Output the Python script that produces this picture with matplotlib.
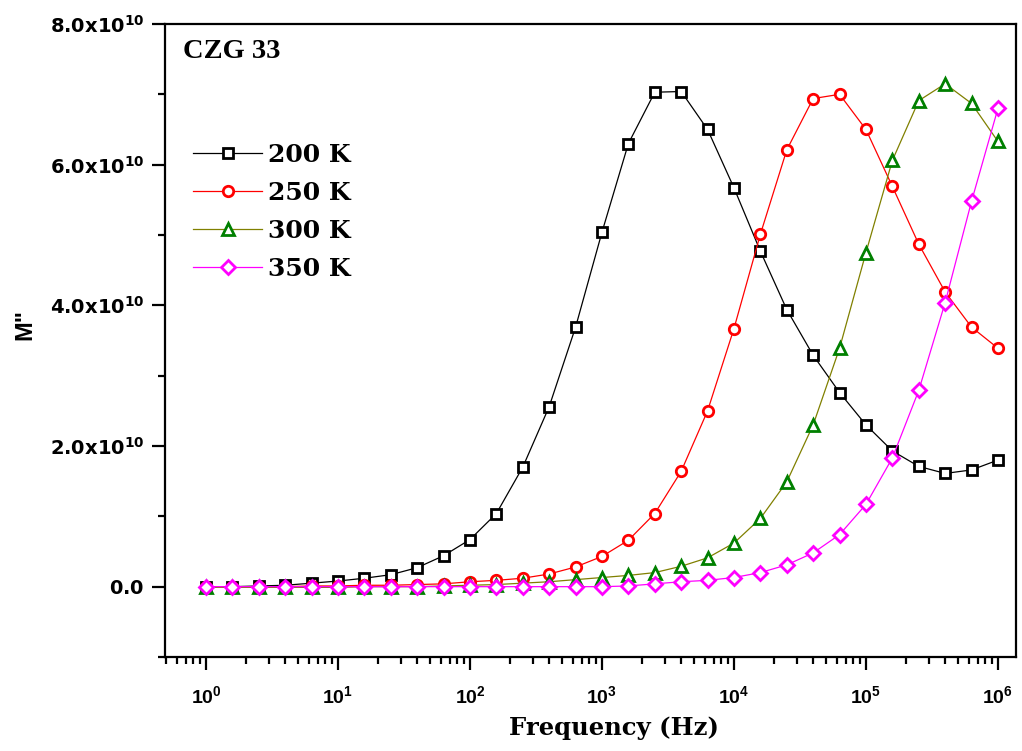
import numpy as np
import matplotlib
matplotlib.use("Agg")
import matplotlib.pyplot as plt
from matplotlib.ticker import FixedLocator, FuncFormatter, LogLocator, NullFormatter

# Frequencies (Hz): five points per decade from 1 Hz to 1 MHz
freq_hz = [1.0, 1.585, 2.512, 3.981, 6.310,
           10.0, 15.85, 25.12, 39.81, 63.10,
           100.0, 158.5, 251.2, 398.1, 631.0,
           1.0e3, 1.585e3, 2.512e3, 3.981e3, 6.310e3,
           1.0e4, 1.585e4, 2.512e4, 3.981e4, 6.310e4,
           1.0e5, 1.585e5, 2.512e5, 3.981e5, 6.310e5,
           1.0e6]

# Imaginary modulus M'' in units of 1e10
m_200k = [0.00, 0.00, 0.01, 0.02, 0.05, 0.08, 0.12, 0.17, 0.27, 0.44,
          0.67, 1.04, 1.70, 2.56, 3.69, 5.04, 6.30, 7.03, 7.04, 6.50,
          5.67, 4.77, 3.94, 3.29, 2.76, 2.30, 1.93, 1.71, 1.61, 1.66,
          1.80]
m_250k = [0.00, 0.00, 0.00, 0.00, 0.01, 0.01, 0.02, 0.02, 0.03, 0.04,
          0.07, 0.09, 0.12, 0.18, 0.28, 0.43, 0.66, 1.04, 1.64, 2.50,
          3.67, 5.01, 6.21, 6.94, 7.00, 6.50, 5.69, 4.87, 4.19, 3.69,
          3.39]
m_300k = [-0.01, -0.01, -0.01, -0.01, -0.01, -0.01, 0.00, 0.00, 0.00, 0.01,
          0.02, 0.03, 0.05, 0.07, 0.10, 0.13, 0.16, 0.20, 0.29, 0.41,
          0.62, 0.97, 1.49, 2.30, 3.39, 4.75, 6.06, 6.91, 7.15, 6.87,
          6.33]
m_350k = [0.00, 0.00, 0.00, 0.00, 0.00, 0.00, 0.00, 0.00, 0.00, 0.00,
          0.00, 0.00, 0.00, 0.00, 0.00, 0.00, 0.01, 0.04, 0.07, 0.09,
          0.13, 0.20, 0.31, 0.48, 0.74, 1.17, 1.83, 2.79, 4.04, 5.48,
          6.80]

labels = ["200 K", "250 K", "300 K", "350 K"]
x_ticks = [1e0, 1e1, 1e2, 1e3, 1e4, 1e5, 1e6]
y_ticks = [0.0, 2.0, 4.0, 6.0, 8.0]
sample_name = "CZG 33"

plt.rcParams["mathtext.fontset"] = "custom"
plt.rcParams["mathtext.rm"] = "Liberation Sans"
plt.rcParams["mathtext.bf"] = "Liberation Sans:bold"
plt.rcParams["font.family"] = "Liberation Sans"

fig = plt.figure(figsize=(10.22, 7.51), dpi=100)
ax = fig.add_axes([165 / 1022, 94 / 751, 851 / 1022, 633 / 751])

serif = "DejaVu Serif"
serif2 = "Liberation Serif"
scale = 1e10
styles = [
    dict(color="black", marker="s", ms=7.0, mec="black"),
    dict(color="red", marker="o", ms=7.5, mec="red"),
    dict(color="#808000", marker="^", ms=9.0, mec="#008000"),
    dict(color="#ff00ff", marker="D", ms=7.0, mec="#ff00ff"),
]
for series, lab, st in zip([m_200k, m_250k, m_300k, m_350k], labels, styles):
    ax.plot(freq_hz, np.array(series) * scale, color=st["color"], lw=0.9,
            marker=st["marker"], ms=st["ms"], mfc="white", mec=st["mec"],
            mew=2.0, label=lab)

ax.set_xscale("log")
ax.set_xlim(0.489, 1.37e6)
ax.set_ylim(-1e10, 8e10)

ax.xaxis.set_major_locator(FixedLocator(x_ticks))
ax.xaxis.set_minor_locator(LogLocator(base=10, subs=np.arange(2, 10), numticks=20))
ax.xaxis.set_minor_formatter(NullFormatter())
ax.xaxis.set_major_formatter(FuncFormatter(
    lambda v, p: r"$\mathbf{10^{%d}}$" % int(round(np.log10(v)))))

ax.yaxis.set_major_locator(FixedLocator([t * scale for t in y_ticks]))
ax.yaxis.set_minor_locator(FixedLocator([-1e10, 1e10, 3e10, 5e10, 7e10]))


def ylab(v, p):
    if abs(v) < 1:
        return r"$\mathbf{0.0}$"
    return r"$\mathbf{%.1fx10^{10}}$" % (v / scale)


ax.yaxis.set_major_formatter(FuncFormatter(ylab))

for side in ["left", "right", "top", "bottom"]:
    ax.spines[side].set_linewidth(1.6)
ax.tick_params(axis="both", which="major", direction="out", length=9.5,
               width=1.6, labelsize=14)
ax.tick_params(axis="y", which="major", pad=5)
ax.tick_params(axis="x", which="major", pad=11)
ax.tick_params(axis="both", which="minor", direction="out", length=5,
               width=1.6)
ax.tick_params(top=False, right=False, which="both")
for t in ax.yaxis.get_major_ticks():
    t.label1.set_math_fontfamily("dejavusans")

fig.text(614 / 1022, 1 - 728 / 751, "Frequency (Hz)", family=serif,
         weight="bold", fontsize=17.5, ha="center", va="center")
fig.text(25 / 1022, 1 - 325 / 751, 'M"', family="Liberation Sans",
         weight="bold", fontsize=17, rotation=90, ha="center", va="center")
ax.text(18 / 851, (657 - 52) / 633, sample_name, transform=ax.transAxes,
        family=serif2, weight="bold", fontsize=20.5, ha="left", va="center")

ax.legend(loc="upper left", bbox_to_anchor=(28 / 851, (657 - 143) / 633),
          frameon=False, prop=dict(family=serif, weight="bold", size=18),
          handlelength=2.76, handletextpad=0.25, labelspacing=0.56,
          borderpad=0, borderaxespad=0, numpoints=1)

fig.savefig("out.png", dpi=100)
